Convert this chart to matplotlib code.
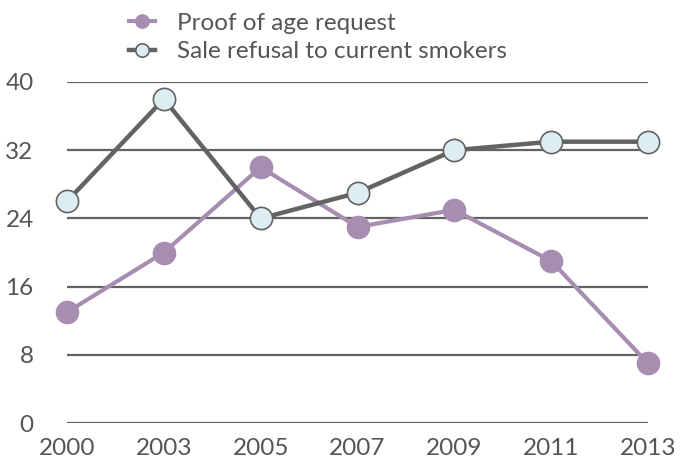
import matplotlib
matplotlib.use("Agg")
import matplotlib.pyplot as plt

plt.rcParams['font.family'] = ['Lato', 'DejaVu Sans']

years = ['2000', '2003', '2005', '2007', '2009', '2011', '2013']
proof_of_age = [13, 20, 30, 23, 25, 19, 7]
sale_refusal = [26, 38, 24, 27, 32, 33, 33]
y_ticks = [0, 8, 16, 24, 32, 40]

purple = '#a78daf'
dark = '#636363'
pale = '#ddeef3'
text_col = '#555555'

fig = plt.figure(figsize=(6.87, 4.62), dpi=100)
ax = fig.add_axes([67 / 687, 1 - 423 / 462, (648 - 67) / 687, (423 - 82) / 462])

x = list(range(len(years)))
ax.plot(x, proof_of_age, color=purple, lw=3, marker='o', ms=16,
        mfc=purple, mec=purple, clip_on=False, zorder=3,
        label='Proof of age request')
ax.plot(x, sale_refusal, color=dark, lw=3.2, marker='o', ms=16,
        mfc=pale, mec=dark, mew=1.2, clip_on=False, zorder=4,
        label='Sale refusal to current smokers')

ax.set_xlim(0, len(years) - 1)
ax.set_ylim(0, 40)
ax.set_yticks(y_ticks)
ax.set_xticks(x)
ax.set_xticklabels(years)
ax.yaxis.grid(True, color=dark, lw=1.6)
ax.set_axisbelow(True)
for s in ax.spines.values():
    s.set_visible(False)
ax.tick_params(length=0, labelsize=17.5, colors=text_col)
ax.tick_params(axis='y', pad=24)
ax.tick_params(axis='x', pad=11)

leg = ax.legend(loc='upper left', bbox_to_anchor=(114 / 687, 1 + 2 / 462),
                bbox_transform=fig.transFigure, frameon=False,
                fontsize=17.5, handlelength=1.1, handletextpad=0.9,
                labelspacing=0.32, markerscale=0.6, borderaxespad=0.2)
for t in leg.get_texts():
    t.set_color(text_col)

fig.savefig('out.png', dpi=100)
